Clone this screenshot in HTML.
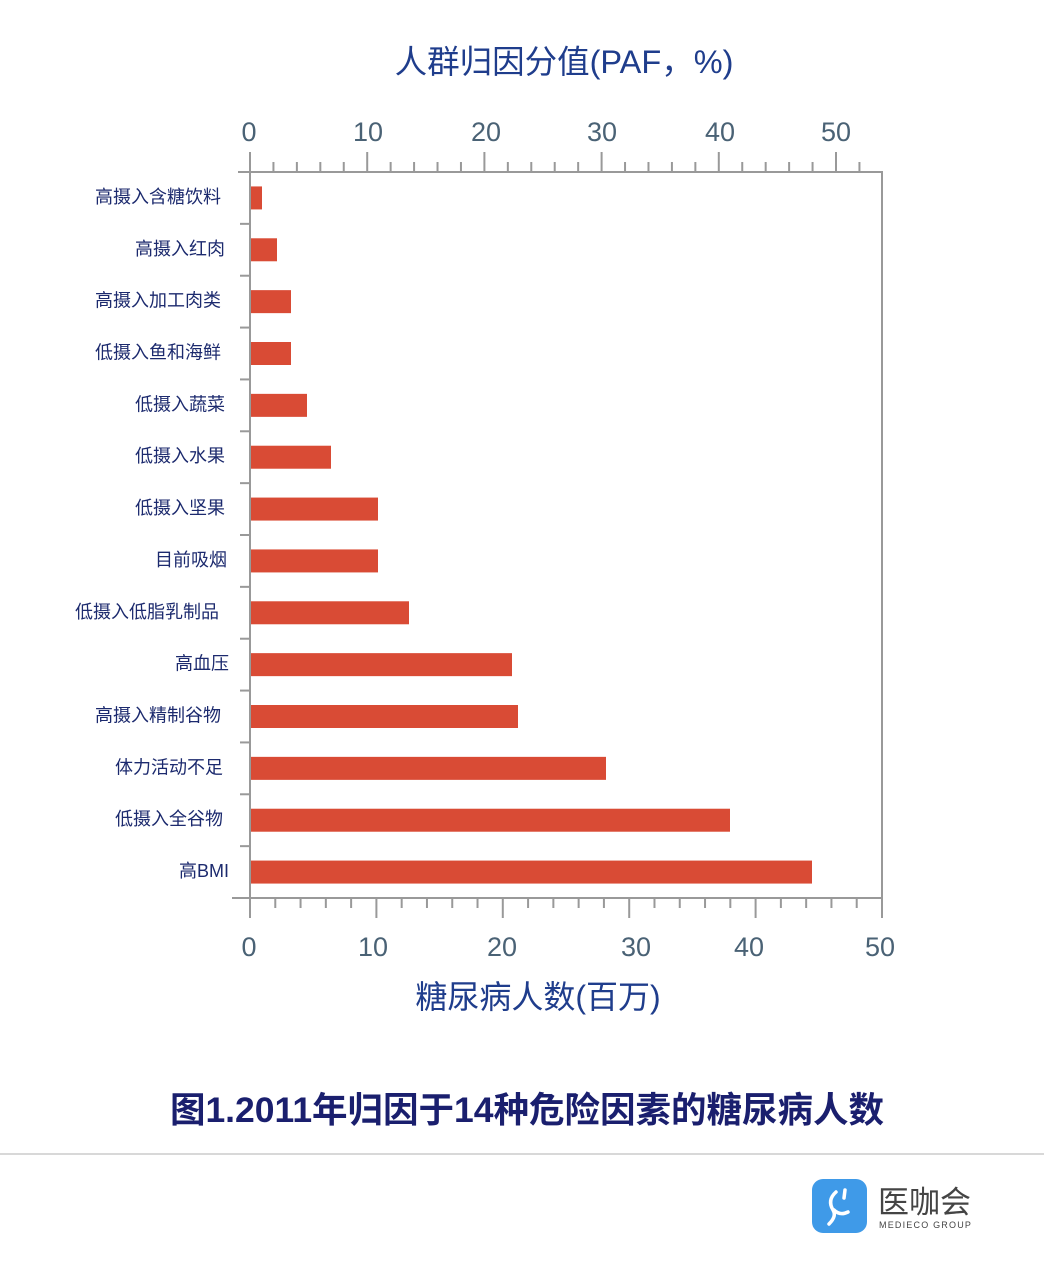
<!DOCTYPE html>
<html><head><meta charset="utf-8"><style>
html,body{margin:0;padding:0;background:#fff;}
svg{display:block;}
text{font-family:"Liberation Sans","Noto Sans CJK SC",sans-serif;}
</style></head><body>
<svg width="1044" height="1263" viewBox="0 0 1044 1263" xmlns="http://www.w3.org/2000/svg">
<rect width="1044" height="1263" fill="#fff"/>
<text x="564" y="73" font-size="32.5" fill="#1f3d8c" text-anchor="middle">人群归因分值(PAF，%)</text>
<g font-size="27" fill="#4a6275" text-anchor="middle">
<text x="249" y="141">0</text><text x="368" y="141">10</text><text x="486" y="141">20</text><text x="602" y="141">30</text><text x="720" y="141">40</text><text x="836" y="141">50</text>
<text x="249" y="956">0</text><text x="373" y="956">10</text><text x="502" y="956">20</text><text x="636" y="956">30</text><text x="749" y="956">40</text><text x="880" y="956">50</text>
</g>
<g stroke="#999" stroke-width="2" fill="none">
<rect x="250" y="172" width="632" height="726"/>
<line x1="238" y1="172" x2="250" y2="172"/>
<line x1="232" y1="898" x2="250" y2="898"/>
</g>
<g stroke="#999" stroke-width="2" id="t"></g>
<g fill="#d94b35" id="b"></g>
<g font-size="18" fill="#1c2a6e" text-anchor="end" id="l"></g>
<text x="538" y="1008" font-size="32" fill="#1f3d8c" text-anchor="middle">糖尿病人数(百万)</text>
<text x="527" y="1122" font-size="35.5" font-weight="bold" fill="#1a1f6e" text-anchor="middle">图1.2011年归因于14种危险因素的糖尿病人数</text>
<line x1="0" y1="1154" x2="1044" y2="1154" stroke="#ccc" stroke-width="1.5"/>
<rect x="812" y="1179" width="55" height="54" rx="11" fill="#3f9ae8"/>
<path d="M836 1192 q-9 8 -3 18 q4 6 -4 14 M834 1210 q6 6 14 2 M845 1190 l-1 8" stroke="#fff" stroke-width="3.5" fill="none" stroke-linecap="round"/>
<text x="878" y="1213" font-size="31" fill="#444">医咖会</text>
<text x="879" y="1228" font-size="9" fill="#444" letter-spacing="1.2">MEDIECO  GROUP</text>
</svg>
<script>
var ns="http://www.w3.org/2000/svg";
function el(p,n,a,t){var e=document.createElementNS(ns,n);for(var k in a)e.setAttribute(k,a[k]);if(t)e.textContent=t;document.getElementById(p).appendChild(e);}
for(var i=0;i<=25;i++){var x=250+i*632/25;el("t","line",{x1:x,x2:x,y1:898,y2:i%5==0?918:908});}
for(var i=0;i<=26;i++){var x=250+i*11.72*2;if(x>889)break;el("t","line",{x1:x,x2:x,y1:172,y2:i%5==0?152:162});}
var step=726/14;
for(var i=1;i<14;i++){var y=172+i*step;el("t","line",{x1:240,x2:250,y1:y,y2:y});}
var ends=[262,277,291,291,307,331,378,378,409,512,518,606,730,812];
var labs=["高摄入含糖饮料","高摄入红肉","高摄入加工肉类","低摄入鱼和海鲜","低摄入蔬菜","低摄入水果","低摄入坚果","目前吸烟","低摄入低脂乳制品","高血压","高摄入精制谷物","体力活动不足","低摄入全谷物","高BMI"];
var rx=[221,225,221,221,225,225,225,227,219,229,221,223,223,229];
for(var i=0;i<14;i++){var c=172+(i+0.5)*step;el("b","rect",{x:251,y:c-11.5,width:ends[i]-251,height:23});el("l","text",{x:rx[i],y:c+5},labs[i]);}
</script>
</body></html>
